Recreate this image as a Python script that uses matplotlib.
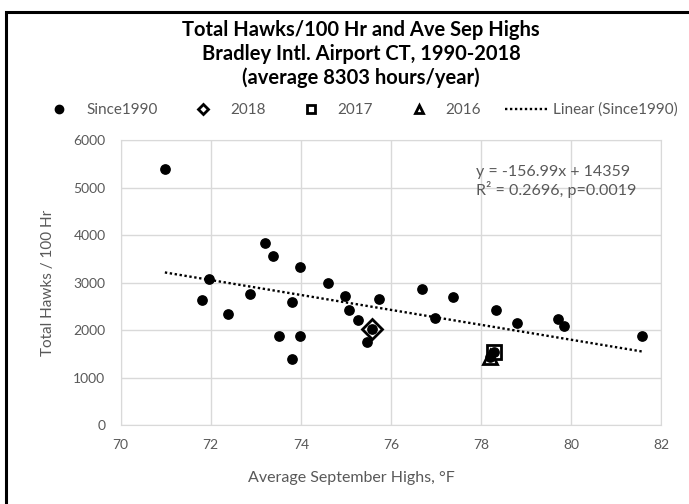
import matplotlib.pyplot as plt
from matplotlib.lines import Line2D
from matplotlib.patches import Rectangle

# Dados (temperatura média de setembro, °F / gaviões por 100 h)
temp_desde1990 = [70.98, 71.96, 71.81, 72.39, 72.88, 73.20, 73.37, 73.97, 73.80, 73.51,
                  73.97, 73.80, 74.61, 74.98, 75.07, 75.27, 75.47, 75.57, 75.73, 76.69,
                  76.98, 77.38, 78.33, 78.80, 79.70, 79.84, 81.58, 78.29, 78.20]
gavioes_desde1990 = [5400, 3080, 2640, 2345, 2755, 3840, 3570, 3320, 2590, 1880,
                     1880, 1390, 3000, 2720, 2420, 2210, 1745, 2025, 2650, 2865,
                     2260, 2700, 2425, 2155, 2240, 2095, 1880, 1552, 1436]
temp_2018, gavioes_2018 = [75.57], [2025]
temp_2017, gavioes_2017 = [78.29], [1552]
temp_2016, gavioes_2016 = [78.20], [1436]

# Linha de tendência (valores do rótulo do gráfico)
inclinacao = -156.99
intercepto = 14359

cinza = '#595959'
pontilhado = (0, (1, 1.1))
plt.rcParams['font.family'] = ['Lato', 'DejaVu Sans']

fig = plt.figure(figsize=(6.89, 5.04), dpi=100)
ax = fig.add_axes([0.1752, 0.1561, 0.7846, 0.566])

# Moldura preta da figura (cortada à direita e embaixo)
fig.patches.append(Rectangle((6 / 689, -0.05), 1.1, 1 - 12 / 504 + 0.05, transform=fig.transFigure,
                             fill=False, edgecolor='black', linewidth=2.2, clip_on=False))

ax.scatter(temp_desde1990, gavioes_desde1990, s=45, color='black', zorder=3)
x_tend = [min(temp_desde1990), max(temp_desde1990)]
y_tend = [inclinacao * x + intercepto for x in x_tend]
ax.plot(x_tend, y_tend, color='black', linestyle=pontilhado, linewidth=1.7, zorder=2)
ax.plot(temp_2018, gavioes_2018, marker='D', markersize=10, markerfacecolor='none',
        markeredgecolor='black', markeredgewidth=2, linestyle='none', zorder=4)
ax.plot(temp_2017, gavioes_2017, marker='s', markersize=10, markerfacecolor='none',
        markeredgecolor='black', markeredgewidth=2, linestyle='none', zorder=4)
ax.plot(temp_2016, gavioes_2016, marker='^', markersize=10, markerfacecolor='none',
        markeredgecolor='black', markeredgewidth=2, linestyle='none', zorder=4)

ax.set_xlim(70, 82)
ax.set_ylim(0, 6000)
ax.set_xticks(range(70, 83, 2))
ax.set_yticks(range(0, 6001, 1000))
ax.grid(True, color='#d9d9d9', linewidth=1)
ax.set_axisbelow(True)
for lado in ax.spines.values():
    lado.set_color('#d9d9d9')
ax.tick_params(length=0, labelsize=10, colors=cinza)
ax.tick_params(axis='x', pad=10)
ax.tick_params(axis='y', pad=11)

# Títulos dos eixos (centrados como no Excel)
ax.set_xlabel('Average September Highs, °F', color=cinza, fontsize=11.5, va='center')
ax.xaxis.set_label_coords(0.426, -0.185)
ax.set_ylabel('Total Hawks / 100 Hr', color=cinza, fontsize=11, va='center')
ax.yaxis.set_label_coords(-0.134, 0.5)

ax.text(0.657, 0.855, 'y = -156.99x + 14359\nR² = 0.2696, p=0.0019', transform=ax.transAxes,
        color=cinza, fontsize=11.5, linespacing=1.2, va='center', ha='left')

fig.text(0.524, 1 - 54 / 504, 'Total Hawks/100 Hr and Ave Sep Highs\nBradley Intl. Airport CT, 1990-2018\n(average 8303 hours/year)',
         ha='center', va='center', fontsize=14.5, fontweight='bold', linespacing=1.25)

itens = [
    Line2D([], [], marker='o', color='black', linestyle='none', markersize=6),
    Line2D([], [], marker='D', markerfacecolor='none', markeredgecolor='black', markeredgewidth=2, linestyle='none', markersize=5),
    Line2D([], [], marker='s', markerfacecolor='none', markeredgecolor='black', markeredgewidth=2, linestyle='none', markersize=6),
    Line2D([], [], marker='^', markerfacecolor='none', markeredgecolor='black', markeredgewidth=2, linestyle='none', markersize=6),
    Line2D([], [], color='black', linestyle=pontilhado, linewidth=1.7),
]
nomes = ['Since1990', '2018', '2017', '2016', 'Linear (Since1990)']
fig.legend(itens, nomes, loc='center', bbox_to_anchor=(0.5196, 1 - 110 / 504), ncol=5,
           frameon=False, fontsize=11, labelcolor=cinza, handlelength=2.8,
           handletextpad=0.36, columnspacing=1.57, borderpad=0, borderaxespad=0)

fig.savefig('out.png', dpi=100)
